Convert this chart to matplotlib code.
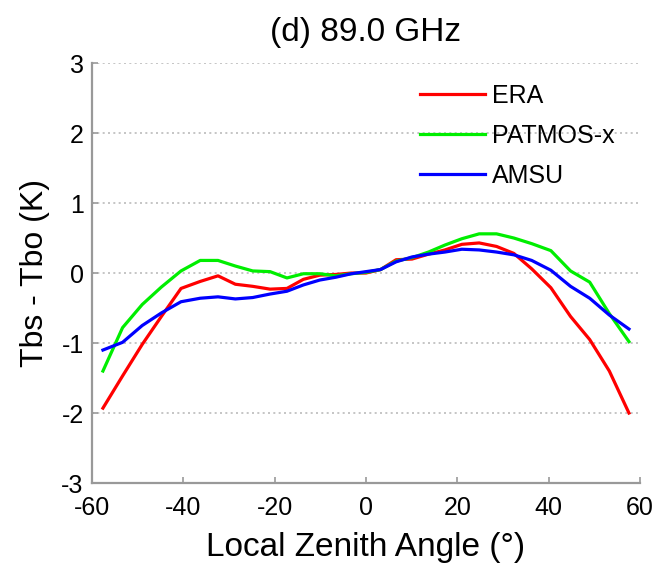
import matplotlib
matplotlib.use("Agg")
import matplotlib.pyplot as plt
import numpy as np

angles = [-57.6, -53.3, -49.0, -44.8, -40.5, -36.3, -32.4, -28.6, -24.8, -21.0,
          -17.3, -13.7, -10.1, -6.6, -3.2, 0.0, 3.2, 6.6, 10.1, 13.7,
          17.3, 21.0, 24.8, 28.6, 32.4, 36.3, 40.5, 44.8, 49.0, 53.3, 57.6]
era = [-1.93, -1.47, -1.02, -0.62, -0.22, -0.12, -0.04, -0.16, -0.19, -0.23,
       -0.22, -0.09, -0.03, -0.02, 0.00, 0.00, 0.05, 0.19, 0.20, 0.27,
       0.33, 0.41, 0.43, 0.38, 0.28, 0.06, -0.21, -0.62, -0.95, -1.40, -2.00]
patmos = [-1.40, -0.78, -0.45, -0.20, 0.03, 0.18, 0.18, 0.10, 0.03, 0.02,
          -0.07, -0.01, -0.01, -0.04, -0.01, 0.01, 0.05, 0.17, 0.22, 0.30,
          0.40, 0.49, 0.56, 0.56, 0.50, 0.42, 0.32, 0.03, -0.13, -0.58, -0.98]
amsu = [-1.10, -0.99, -0.75, -0.57, -0.41, -0.36, -0.34, -0.37, -0.35, -0.30,
        -0.26, -0.17, -0.10, -0.06, -0.01, 0.02, 0.05, 0.16, 0.23, 0.27,
        0.30, 0.34, 0.33, 0.30, 0.26, 0.18, 0.04, -0.19, -0.36, -0.60, -0.80]

series_labels = ["ERA", "PATMOS-x", "AMSU"]
series_colors = ["#ff0000", "#00ee00", "#0000ff"]
xticks = [-60, -40, -20, 0, 20, 40, 60]
yticks = [-3, -2, -1, 0, 1, 2, 3]

plt.rcParams['font.family'] = ['Liberation Sans', 'DejaVu Sans']
plt.rcParams['axes.unicode_minus'] = False

fig = plt.figure(figsize=(6.57, 5.68), dpi=100)
ax = fig.add_axes([0.140, 0.1496, 0.834, 0.7394])

for vals, lab, col in zip([era, patmos, amsu], series_labels, series_colors):
    ax.plot(angles, vals, color=col, lw=2.3, label=lab, solid_joinstyle='round')

ax.set_xlim(-60, 60)
ax.set_ylim(-3, 3)
ax.set_xticks(xticks)
ax.set_yticks(yticks)
ax.tick_params(direction='in', length=4, width=1.2, color='#999999',
               labelsize=18, labelcolor='black')
ax.tick_params(axis='x', pad=9)
ax.tick_params(axis='y', pad=6)
for s in ['top', 'right']:
    ax.spines[s].set_visible(False)
for s in ['left', 'bottom']:
    ax.spines[s].set_color('#999999')
    ax.spines[s].set_linewidth(1.6)
ax.yaxis.grid(True, linestyle=(0, (1.2, 2.0)), color='#bbbbbb', linewidth=1.2)
ax.set_axisbelow(True)
for lbl in ax.get_yticklabels():
    lbl.set_verticalalignment('center_baseline')

ax.set_title("(d) 89.0 GHz", fontsize=24, pad=16)
ax.set_xlabel("Local Zenith Angle (°)", fontsize=24, labelpad=9)
ax.set_ylabel("Tbs - Tbo (K)", fontsize=23, labelpad=8)

leg = fig.legend(loc='upper left', bbox_to_anchor=(0.639, 0.852), frameon=False,
                 fontsize=18, handlelength=2.6, handletextpad=0.3,
                 labelspacing=0.63, borderpad=0, borderaxespad=0)

fig.savefig("out.png", dpi=100)
